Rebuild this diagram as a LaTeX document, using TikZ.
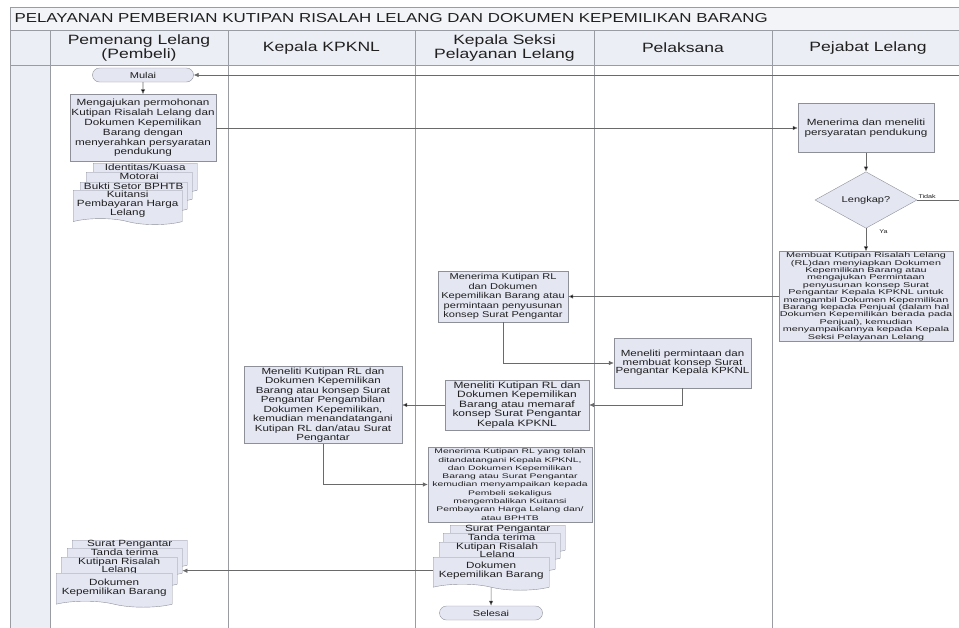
\documentclass[tikz,border=0pt]{standalone}
\usepackage{fontspec}
\setmainfont{Liberation Sans}[FakeStretch=1.3]
\newfontfamily\densefont{Liberation Sans}[FakeStretch=1.55]
\usetikzlibrary{arrows.meta,shapes.geometric,shapes.symbols,shapes.misc}
\definecolor{boxfill}{HTML}{E4E6F2}
\definecolor{boxline}{HTML}{8E9099}
\definecolor{headfill}{HTML}{ECEEF5}
\definecolor{titlefill}{HTML}{F3F4F7}
\definecolor{laneline}{HTML}{9A9CA4}
\definecolor{arrline}{HTML}{6A6A6A}
\definecolor{txt}{HTML}{202020}

\begin{document}
\begin{tikzpicture}[x=1pt,y=-1pt,>={Latex[length=5pt,width=4.5pt]},
  box/.style={draw=boxline,fill=boxfill,align=center,text=txt,inner sep=1pt,font=\fontsize{9}{9.8}\selectfont},
  term/.style={rounded rectangle,draw=boxline,fill=boxfill,minimum height=14,text=txt,inner sep=0pt,font=\fontsize{8.5}{9}\selectfont},
  decision/.style={diamond,draw=boxline,fill=boxfill,inner sep=0pt,text=txt,font=\fontsize{8.5}{9}\selectfont},
  doc/.style={tape,tape bend top=none,tape bend bottom=out and in,tape bend height=6,draw=boxline,fill=boxfill,anchor=north west,inner sep=1pt,align=center,text=txt,font=\fontsize{9}{9}\selectfont},
  doclabel/.style={anchor=north,inner sep=0.5pt,align=center,text=txt,font=\fontsize{9}{8.5}\selectfont},
  head/.style={align=center,text=txt,font=\fontsize{13.5}{14}\selectfont},
  flow/.style={draw=arrline,line width=0.6pt},
  small/.style={text=txt,inner sep=1pt,font=\fontsize{5.5}{6}\selectfont}]

  \useasboundingbox (0,0) rectangle (959,627);

  % lanes
  \fill[titlefill] (10,7) rectangle (990,30);
  \fill[headfill] (10,30) rectangle (990,65);
  \fill[headfill] (10,65) rectangle (50,650);
  \draw[laneline] (10,7) -- (990,7) (10,30) -- (990,30) (10,65) -- (990,65) (10,7) -- (10,650);
  \foreach \lx in {50,228,415,594,772}
    \draw[laneline] (\lx,30) -- (\lx,650);

  \node[anchor=west,text=txt,font=\fontsize{13}{13}\selectfont] (judul) at (11,18)
    {PELAYANAN PEMBERIAN KUTIPAN RISALAH LELANG DAN DOKUMEN KEPEMILIKAN BARANG};
  \node[head] (hPembeli) at (139,48) {Pemenang Lelang\\(Pembeli)};
  \node[head] (hKepala) at (321.5,48) {Kepala KPKNL};
  \node[head] (hSeksi) at (504.5,48) {Kepala Seksi\\Pelayanan Lelang};
  \node[head] (hPelaksana) at (683,48) {Pelaksana};
  \node[head] (hPejabat) at (868,48) {Pejabat Lelang};

  % Pemenang Lelang
  \node[term,minimum width=101] (mulai) at (143,75) {Mulai};
  \node[box,minimum width=146,minimum height=67] (ajukan) at (143,128) {Mengajukan permohonan\\Kutipan Risalah Lelang dan\\Dokumen Kepemilikan\\Barang dengan\\menyerahkan persyaratan\\pendukung};
  \node[doc,minimum width=104,minimum height=30,label={[doclabel]north:Identitas/Kuasa}] (identitas) at (93,163) {};
  \node[doc,minimum width=106,minimum height=30,label={[doclabel]north:Motorai}] (motorai) at (86,172) {};
  \node[doc,minimum width=107,minimum height=30,label={[doclabel]north:Bukti Setor BPHTB}] (bukti) at (80,182) {};
  \node[doc,minimum width=109,minimum height=32] (kuitansi) at (73,190) {Kuitansi\\Pembayaran Harga\\Lelang};

  \node[doc,minimum width=115,minimum height=28,label={[doclabel]north:Surat Pengantar}] (surat2) at (72,540) {};
  \node[doc,minimum width=115,minimum height=28,label={[doclabel]north:Tanda terima}] (tanda2) at (67,548) {};
  \node[doc,minimum width=116,minimum height=30,label={[doclabel]north:Kutipan Risalah\\Lelang}] (kutipan2) at (61,557) {};
  \node[doc,minimum width=116,minimum height=34] (dokumen2) at (56,573) {Dokumen\\Kepemilikan Barang};

  % Kepala KPKNL
  \node[box,minimum width=158,minimum height=76,font=\fontsize{8.9}{9.5}\selectfont] (tandatangan) at (323,405) {Meneliti Kutipan RL dan\\Dokumen Kepemilikan\\Barang atau konsep Surat\\Pengantar Pengambilan\\Dokumen Kepemilikan,\\kemudian menandatangani\\Kutipan RL dan/atau Surat\\Pengantar};

  % Kepala Seksi Pelayanan Lelang
  \node[box,minimum width=130,minimum height=51,font=\fontsize{8.5}{9.5}\selectfont] (terimaRL) at (503,296.5) {Menerima Kutipan RL\\dan Dokumen\\Kepemilikan Barang atau\\permintaan penyusunan\\konsep Surat Pengantar};
  \node[box,minimum width=144,minimum height=50,font=\fontsize{9.2}{9.4}\selectfont] (paraf) at (517,405) {Meneliti Kutipan RL dan\\Dokumen Kepemilikan\\Barang atau memaraf\\konsep Surat Pengantar\\Kepala KPKNL};
  \node[box,minimum width=164,minimum height=75,font=\densefont\fontsize{6.7}{8.3}\selectfont] (serah) at (510,484.5) {Menerima Kutipan RL yang telah\\ditandatangani Kepala KPKNL,\\dan Dokumen Kepemilikan\\Barang atau Surat Pengantar\\kemudian menyampaikan kepada\\Pembeli sekaligus\\mengembalikan Kuitansi\\Pembayaran Harga Lelang dan/\\atau BPHTB};
  \node[doc,minimum width=115,minimum height=28,label={[doclabel]north:Surat Pengantar}] (surat) at (450,525) {};
  \node[doc,minimum width=117,minimum height=28,label={[doclabel]north:Tanda terima}] (tanda) at (443,533) {};
  \node[doc,minimum width=116,minimum height=30,label={[doclabel]north:Kutipan Risalah\\Lelang}] (kutipan) at (439,542) {};
  \node[doc,minimum width=116,minimum height=33] (dokumen) at (433,557) {Dokumen\\Kepemilikan Barang};
  \node[term,minimum width=103] (selesai) at (491,613) {Selesai};

  % Pelaksana
  \node[box,minimum width=137,minimum height=50,font=\fontsize{8.9}{8.6}\selectfont] (minta) at (682.5,363) {Meneliti permintaan dan\\membuat konsep Surat\\Pengantar Kepala KPKNL};

  % Pejabat Lelang
  \node[box,minimum width=136,minimum height=49] (terima) at (866,128) {Menerima dan meneliti\\persyaratan pendukung};
  \node[decision,minimum width=102,minimum height=46] (lengkap) at (866,200) {Lengkap?};
  \node[box,minimum width=168,minimum height=89,font=\densefont\fontsize{7}{7.4}\selectfont] (buat) at (866,296.5) {Membuat Kutipan Risalah Lelang\\(RL)dan menyiapkan Dokumen\\Kepemilikan Barang atau\\mengajukan Permintaan\\penyusunan konsep Surat\\Pengantar Kepala KPKNL untuk\\mengambil Dokumen Kepemilikan\\Barang kepada Penjual (dalam hal\\Dokumen Kepemilikan berada pada\\Penjual), kemudian\\menyampaikannya kepada Kepala\\Seksi Pelayanan Lelang};
  \coordinate (loopR) at (985,200);

  \path[flow,->] (mulai) edge (ajukan)
                 (ajukan) edge (terima)
                 (terima) edge (lengkap)
                 (lengkap) edge node[small,anchor=west,pos=0.15,xshift=12] (ya) {Ya} (buat)
                 (buat) edge (terimaRL)
                 (paraf) edge (tandatangan)
                 (dokumen) edge (selesai);
  \draw[flow,->] (lengkap.east) node[small,anchor=south west] (tidak) {Tidak} -- (loopR) |- (mulai.east);
  \draw[flow,->] (terimaRL.south) |- (minta.west);
  \draw[flow,->] (minta.south) |- (paraf.east);
  \draw[flow,->] (tandatangan.south) |- (serah.west);
  \draw[flow,->] (dokumen.west) -- (dokumen.west -| tanda2.east);
\end{tikzpicture}
\end{document}
